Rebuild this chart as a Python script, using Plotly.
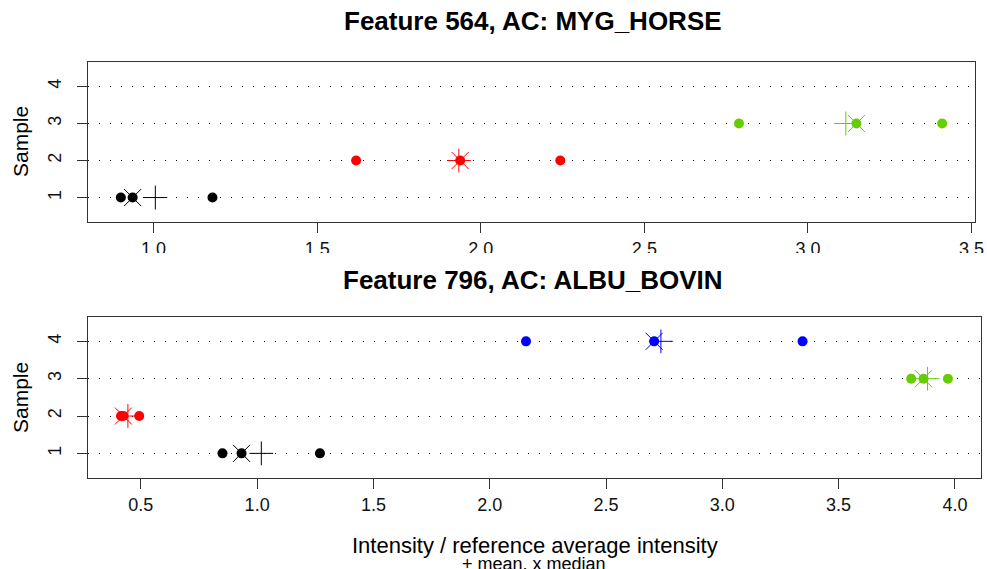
import numpy as np
import plotly.graph_objects as go

# ---------------- data ----------------
panel1_title = "Feature 564, AC: MYG_HORSE"
panel1_samples = [1, 2, 3]
panel1_values = [
    [0.900, 0.936, 1.180],   # sample 1
    [1.619, 1.937, 2.243],   # sample 2
    [2.789, 3.148, 3.410],   # sample 3
]
panel1_xticks = [1.0, 1.5, 2.0, 2.5, 3.0, 3.5]

panel2_title = "Feature 796, AC: ALBU_BOVIN"
panel2_samples = [1, 2, 3, 4]
panel2_values = [
    [0.851, 0.933, 1.270],   # sample 1
    [0.415, 0.425, 0.493],   # sample 2
    [3.812, 3.865, 3.970],   # sample 3
    [2.156, 2.707, 3.345],   # sample 4
]
panel2_xticks = [0.5, 1.0, 1.5, 2.0, 2.5, 3.0, 3.5, 4.0]

y_ticks = [1, 2, 3, 4]
sample_colors = ["#000000", "#FF0000", "#66CD00", "#0000FF"]

x_title = "Intensity / reference average intensity"
x_subtitle = "+ mean, x median"
y_title = "Sample"

# ---------------- layout helpers ----------------
W, H = 987, 569
ML, MR, MT, MB = 88, 6, 62, 91
PW, PH = W - ML - MR, H - MT - MB


def px_x(p):
    return (p - ML) / PW


def px_y(p):
    return (H - MB - p) / PH


FONT = "Liberation Sans, Arial, Helvetica, sans-serif"
AX = "#333333"

fig = go.Figure()


def add_panel(samples, values, xa, ya):
    for s, vals in zip(samples, values):
        col = sample_colors[s - 1]
        vals = np.array(vals)
        fig.add_trace(go.Scatter(
            x=vals, y=[s] * len(vals), mode="markers", xaxis=xa, yaxis=ya,
            marker=dict(symbol="circle", size=10, color=col, line=dict(width=0)),
            showlegend=False, hoverinfo="x+y"))
        fig.add_trace(go.Scatter(
            x=[vals.mean()], y=[s], mode="markers", xaxis=xa, yaxis=ya,
            marker=dict(symbol="cross-thin-open", size=17, color=col,
                        line=dict(width=1, color=col)),
            showlegend=False, hoverinfo="x+y"))
        fig.add_trace(go.Scatter(
            x=[np.median(vals)], y=[s], mode="markers", xaxis=xa, yaxis=ya,
            marker=dict(symbol="x-thin-open", size=17, color=col,
                        line=dict(width=1, color=col)),
            showlegend=False, hoverinfo="x+y"))


add_panel(panel1_samples, panel1_values, "x", "y")
add_panel(panel2_samples, panel2_values, "x2", "y2")


def ext_range(values):
    a = np.concatenate([np.array(v) for v in values])
    lo, hi = a.min(), a.max()
    d = (hi - lo) * 0.04
    return [lo - d, hi + d]


def xaxis_cfg(domain, rng, ticks, anchor, standoff):
    return dict(
        domain=domain, range=rng, anchor=anchor, automargin=False,
        tickvals=ticks, ticktext=[f"{t:.1f}" for t in ticks],
        ticks="outside", ticklen=10, tickwidth=1, tickcolor=AX,
        showline=True, linecolor=AX, linewidth=1, mirror=True,
        showgrid=False, zeroline=False,
        tickfont=dict(family=FONT, size=18, color="#111111"),
        ticklabelstandoff=standoff,
    )


def yaxis_cfg(domain, anchor):
    return dict(
        domain=domain, range=[0.34, 4.66], anchor=anchor, automargin=False,
        tickvals=y_ticks, ticktext=[str(t) for t in y_ticks], tickangle=-90,
        ticks="outside", ticklen=10, tickwidth=1, tickcolor=AX,
        showline=True, linecolor=AX, linewidth=1, mirror=True,
        showgrid=True, gridcolor="#000000", gridwidth=1, griddash="1px,10px",
        zeroline=False,
        tickfont=dict(family=FONT, size=18, color="#111111"),
        ticklabelstandoff=9,
    )


fig.update_layout(
    width=W, height=H,
    margin=dict(l=ML, r=MR, t=MT, b=MB, pad=0, autoexpand=False),
    paper_bgcolor="white", plot_bgcolor="white",
    font=dict(family=FONT, color="#000000"),
    xaxis=xaxis_cfg([0, px_x(975)], ext_range(panel1_values), panel1_xticks, "y", 0),
    yaxis=yaxis_cfg([px_y(222), 1], "x"),
    xaxis2=xaxis_cfg([0, 1], ext_range(panel2_values), panel2_xticks, "y2", 0),
    yaxis2=yaxis_cfg([0, px_y(316.7)], "x2"),
    showlegend=False,
)

# clip the lower part of the top panel's tick labels, as in the reference
fig.add_shape(type="rect", xref="paper", yref="paper",
              x0=px_x(0), x1=px_x(W), y0=px_y(266), y1=px_y(253),
              fillcolor="white", line=dict(width=0), layer="above")

ann = [
    dict(text=f"<b>{panel1_title}</b>", x=px_x(533), y=px_y(21), size=26),
    dict(text=f"<b>{panel2_title}</b>", x=px_x(533), y=px_y(280), size=26),
    dict(text=x_title, x=px_x(535), y=px_y(545), size=22),
    dict(text=x_subtitle, x=px_x(534), y=px_y(564), size=18),
]
for a in ann:
    fig.add_annotation(text=a["text"], x=a["x"], y=a["y"], xref="paper", yref="paper",
                       xanchor="center", yanchor="middle", showarrow=False,
                       font=dict(family=FONT, size=a["size"], color="#000000"))
for yc in (142, 398):
    fig.add_annotation(text=y_title, x=px_x(20), y=px_y(yc), xref="paper", yref="paper",
                       xanchor="center", yanchor="middle", showarrow=False, textangle=-90,
                       font=dict(family=FONT, size=21, color="#000000"))

fig.write_html("out.html")
